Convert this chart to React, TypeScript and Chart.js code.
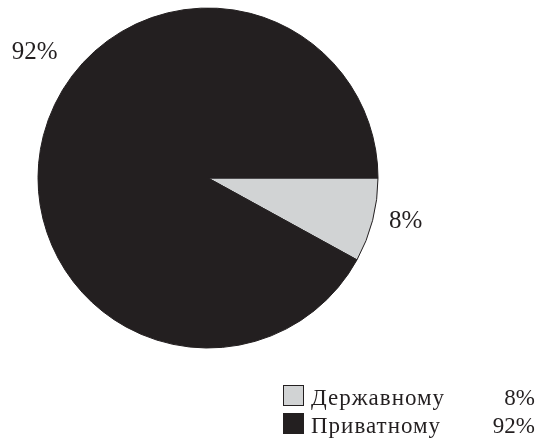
import React, { useEffect, useRef } from "react";
import { Chart, registerables } from "chart.js";
Chart.register(...registerables);

const categories = ["Державному", "Приватному"];
const values = [8, 92];
const colors = ["#d1d3d4", "#231f20"];

const FONT = '"Liberation Serif", "DejaVu Serif", serif';
// label placement: fraction along the arc and distance relative to radius
const labelFrac = [0.43, 0.565];
const labelDist = [1.19, 1.26];

export default function App() {
  const ref = useRef<HTMLCanvasElement>(null);
  useEffect(() => {
    document.body.style.margin = "0";
    const labelPlugin = {
      id: "pieLabels",
      afterDraw(chart: any) {
        const ctx = chart.ctx as any;
        const meta = chart.getDatasetMeta(0);
        ctx.save();
        ctx.fillStyle = "#231f20";
        ctx.font = `25px ${FONT}`;
        ctx.textAlign = "center";
        ctx.textBaseline = "middle";
        meta.data.forEach((arc: any, i: number) => {
          const { x, y, startAngle, endAngle, outerRadius } = arc.getProps(
            ["x", "y", "startAngle", "endAngle", "outerRadius"],
            true
          );
          const a = startAngle + (endAngle - startAngle) * labelFrac[i];
          const d = outerRadius * labelDist[i];
          ctx.fillText(`${values[i]}%`, x + Math.cos(a) * d, y + Math.sin(a) * d);
        });
        // legend
        const boxX = 283;
        const box = 21;
        const textX = 311;
        const valX = 535;
        const baselines = [405, 433];
        ctx.font = `23px ${FONT}`;
        ctx.textBaseline = "alphabetic";
        categories.forEach((c, i) => {
          const b = baselines[i];
          ctx.fillStyle = colors[i];
          ctx.fillRect(boxX, b - 20, box, box);
          ctx.strokeStyle = "#231f20";
          ctx.lineWidth = 1;
          ctx.strokeRect(boxX + 0.5, b - 20 + 0.5, box - 1, box - 1);
          ctx.fillStyle = "#231f20";
          ctx.textAlign = "left";
          ctx.letterSpacing = "1px";
          ctx.fillText(c, textX, b);
          ctx.letterSpacing = "0px";
          ctx.textAlign = "right";
          ctx.fillText(`${values[i]}%`, valX, b);
        });
        ctx.restore();
      },
    };
    const chart = new Chart(ref.current as HTMLCanvasElement, {
      type: "pie",
      data: {
        labels: categories,
        datasets: [
          {
            data: values,
            backgroundColor: colors,
            borderColor: "#231f20",
            borderWidth: 1,
          },
        ],
      },
      options: {
        responsive: false,
        animation: false,
        rotation: 90,
        radius: 170,
        layout: { padding: { left: 38, right: 165, top: 8, bottom: 95 } },
        plugins: { legend: { display: false }, tooltip: { enabled: false } },
      },
      plugins: [labelPlugin],
    });
    return () => chart.destroy();
  }, []);
  return <canvas ref={ref} width={543} height={443} style={{ display: "block" }} />;
}
